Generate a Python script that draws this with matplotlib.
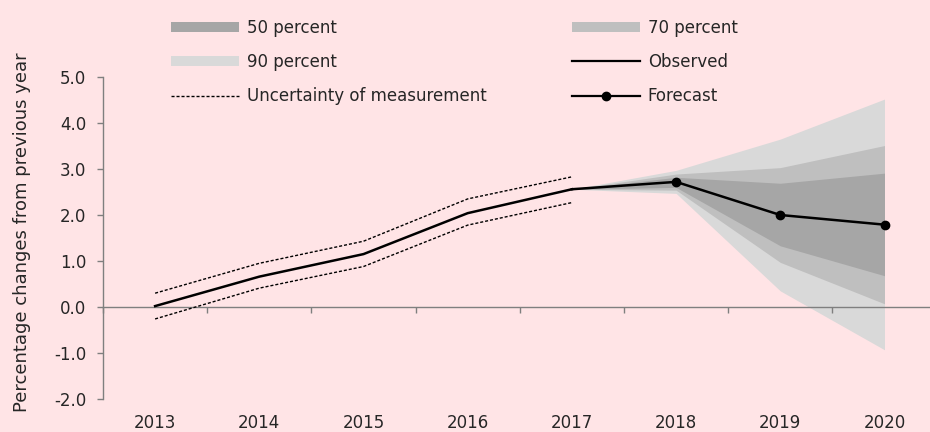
import numpy as np
import matplotlib
matplotlib.use("Agg")
import matplotlib.pyplot as plt
from matplotlib.patches import Patch
from matplotlib.lines import Line2D

# --- data ---
years = ["2013", "2014", "2015", "2016", "2017", "2018", "2019", "2020"]
observed = [0.02, 0.66, 1.15, 2.04, 2.56]
unc_upper = [0.30, 0.95, 1.43, 2.35, 2.83]
unc_lower = [-0.26, 0.41, 0.88, 1.78, 2.27]
forecast = [2.56, 2.72, 2.00, 1.79]          # 2017 (anchor) .. 2020
p90_hi = [2.56, 2.97, 3.65, 4.52]
p90_lo = [2.56, 2.47, 0.35, -0.93]
p70_hi = [2.56, 2.89, 3.03, 3.51]
p70_lo = [2.56, 2.54, 0.97, 0.07]
p50_hi = [2.56, 2.82, 2.69, 2.91]
p50_lo = [2.56, 2.60, 1.33, 0.68]
yticks = [-2.0, -1.0, 0.0, 1.0, 2.0, 3.0, 4.0, 5.0]

BG = "#FFE4E6"
C50, C70, C90 = "#A6A6A6", "#BFBFBF", "#D9D9D9"
AX = "#7F7F7F"
TXT = "#262626"
FS = 12

plt.rcParams["font.family"] = ["DejaVu Sans"]
fig = plt.figure(figsize=(9.3, 4.32), dpi=100, facecolor=BG)
W, H = 930, 432
ax = fig.add_axes([103 / W, (H - 399) / H, 833.6 / W, 322 / H])
ax.set_facecolor(BG)

x = np.arange(len(years))
xo = x[:len(observed)]
xf = x[len(observed) - 1:]

ax.fill_between(xf, p90_lo, p90_hi, color=C90, lw=0, zorder=1)
ax.fill_between(xf, p70_lo, p70_hi, color=C70, lw=0, zorder=2)
ax.fill_between(xf, p50_lo, p50_hi, color=C50, lw=0, zorder=3)

ax.plot(xo, unc_upper, color="black", lw=1.0, dashes=(2.2, 1.4), zorder=4)
ax.plot(xo, unc_lower, color="black", lw=1.0, dashes=(2.2, 1.4), zorder=4)
ax.plot(xo, observed, color="black", lw=1.8, zorder=5)
ax.plot(xf, forecast, color="black", lw=1.8, marker="o", ms=6,
        markevery=list(range(1, len(forecast))), zorder=6)

ax.set_xlim(-0.5, len(years) - 0.5)
ax.set_ylim(yticks[0], yticks[-1])

for s in ("top", "right"):
    ax.spines[s].set_visible(False)
ax.spines["bottom"].set_position(("data", 0))
for s in ("left", "bottom"):
    ax.spines[s].set_color(AX)
    ax.spines[s].set_linewidth(1.0)

ax.set_yticks(yticks)
ax.set_yticklabels([f"{v:.1f}" for v in yticks])
ax.set_xticks(np.arange(len(years) + 1) - 0.5)
ax.set_xticklabels([])
ax.tick_params(axis="y", direction="out", length=4, width=1, color=AX,
               labelsize=FS, pad=8, labelcolor=TXT)
ax.tick_params(axis="x", direction="out", length=4, width=1, color=AX)

# year labels sit at the bottom of the plot, not at the y=0 axis line
for i, yr in enumerate(years):
    ax.text(i, (399 - 432) / 322, yr, transform=ax.get_xaxis_transform(),
            ha="center", va="bottom", fontsize=FS, color=TXT)

fig.text(22 / W, (H - 232) / H, "Percentage changes from previous year",
         rotation=90, ha="center", va="center", fontsize=13, color=TXT)

h50 = Patch(facecolor=C50, edgecolor="none")
h70 = Patch(facecolor=C70, edgecolor="none")
h90 = Patch(facecolor=C90, edgecolor="none")
hobs = Line2D([], [], color="black", lw=1.6)
hunc = Line2D([], [], color="black", lw=1.0, dashes=(2.2, 1.4))
hfc = Line2D([], [], color="black", lw=1.6, marker="o", ms=6, markevery=[1])

common = dict(loc="center left", frameon=False, fontsize=FS, borderpad=0,
              borderaxespad=0, handlelength=4.1, handleheight=0.6,
              handletextpad=0.45, labelspacing=0.97, labelcolor=TXT,
              bbox_transform=fig.transFigure)
leg1 = fig.legend([h50, h90, hunc], ["50 percent", "90 percent", "Uncertainty of measurement"],
                  bbox_to_anchor=(171 / W, (H - 62) / H), **common)
leg2 = fig.legend([h70, hobs, hfc], ["70 percent", "Observed", "Forecast"],
                  bbox_to_anchor=(572 / W, (H - 62) / H), **common)

fig.savefig("out.png", facecolor=BG)
